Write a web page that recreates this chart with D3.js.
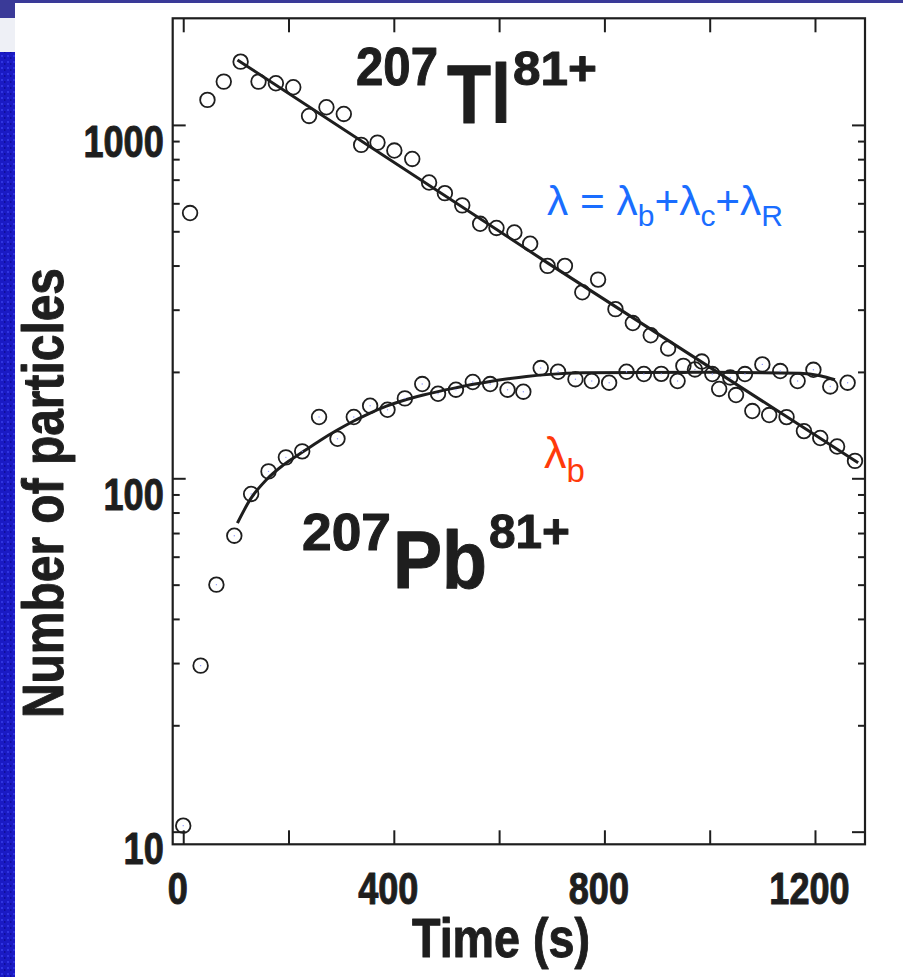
<!DOCTYPE html>
<html>
<head>
<meta charset="utf-8">
<script src="https://cdn.jsdelivr.net/npm/d3@7"></script>
<style>
  html, body { margin: 0; padding: 0; background: #ffffff; }
  svg { display: block; }
  text { font-family: "Liberation Sans", Arial, Helvetica, sans-serif; }
</style>
</head>
<body>
<svg id="chart" width="903" height="977"></svg>
<script>
// ---------- data ----------
const tlTime = [13,46,77,109,143,176,209,239,272,305,338,369,401,435,467,497,530,564,595,629,659,692,725,758,788,821,854,888,921,950,985,1018,1050,1081,1113,1146,1179,1210,1242,1276];
const tlCounts = [563,1177,1326,1510,1326,1312,1278,1060,1122,1074,878,891,846,801,687,641,592,525,511,496,461,399,399,336,365,301,275,254,233,208,214,179,172,155,151,149,136,130,123,112];

const pbTime = [0,33,63,97,129,162,195,226,258,293,324,355,388,421,454,484,518,550,583,616,646,679,712,745,776,809,842,875,908,939,972,1005,1039,1067,1100,1134,1167,1197,1229,1262];
const pbCounts = [10.4,29.5,50.0,68.8,90.3,104.6,114.6,119.2,149.1,129.4,149.1,160.5,156.3,168.3,184.8,173.5,178.1,187.3,184.8,178.1,175.8,205.1,200.2,190.7,188.5,186.4,200.2,197.3,197.5,188.5,203.2,197.2,192.9,197.2,210,201.1,188.5,202.8,181.9,186.4];

// fitted curves
const tlFitTime = [103,692,1282];
const tlFitCounts = [1527,407,110.7];
const pbFitTime = [103,127,158,190,228,260,291,323,355,386,418,456,488,519,551,583,621,652,690,759,982,1172,1210,1238];
const pbFitCounts = [74.7,87.0,99.1,109.0,119.0,128.0,136.5,145.0,153.0,160.0,166.0,172.0,176.5,180.5,184.5,188.0,191.5,194.0,196.5,199.0,199.5,198.3,195.1,190];

// axes
const xTicks = [0,200,400,600,800,1000,1200];
const xLabels = [0,400,800,1200];
const yMajor = [10,100,1000];
const yMinor = [20,30,40,50,60,70,80,90,200,300,400,500,600,700,800,900];
const xDomain = [-20,1295];
const yDomain = [9.21,2003];

// ---------- drawing ----------
const svg = d3.select("#chart");
const L = 172.7, R = 865, T = 18.3, B = 844.3;
const x = d3.scaleLinear().domain(xDomain).range([L, R]);
const y = d3.scaleLog().domain(yDomain).range([B, T]);
const ink = "#1e1e1e";

// slide decoration
const defs = svg.append("defs");
const pat = defs.append("pattern").attr("id","tex").attr("width",6).attr("height",6).attr("patternUnits","userSpaceOnUse");
pat.append("rect").attr("width",6).attr("height",6).attr("fill","#1a1ac4");
pat.append("rect").attr("x",1).attr("y",1).attr("width",2).attr("height",2).attr("fill","#2f34e0");
pat.append("rect").attr("x",4).attr("y",3).attr("width",1.5).attr("height",2).attr("fill","#0f0f9a");
svg.append("rect").attr("x",0).attr("y",0).attr("width",15).attr("height",977).attr("fill","url(#tex)");
svg.append("rect").attr("x",0).attr("y",18).attr("width",15).attr("height",34).attr("fill","#eef0f6");
svg.append("rect").attr("x",0).attr("y",0).attr("width",15).attr("height",18).attr("fill","#3a3a98");
svg.append("rect").attr("x",0).attr("y",0).attr("width",903).attr("height",3).attr("fill","#3a3a98");

function condense(sel, ratio) {
  sel.each(function() {
    const w = this.getComputedTextLength();
    d3.select(this).attr("textLength", w * ratio).attr("lengthAdjust", "spacingAndGlyphs");
  });
}
function heavy(sel) {
  sel.attr("stroke", ink).attr("stroke-width", 1).attr("stroke-linejoin", "round");
}

// axes
const gB = svg.append("g").attr("transform", `translate(0,${B})`)
  .call(d3.axisBottom(x).tickValues(xTicks).tickSize(-14).tickFormat(d => xLabels.includes(d) ? d : ""));
const gT = svg.append("g").attr("transform", `translate(0,${T})`)
  .call(d3.axisTop(x).tickValues(xTicks).tickSize(-14).tickFormat(""));
const gL = svg.append("g").attr("transform", `translate(${L},0)`)
  .call(d3.axisLeft(y).tickValues(yMajor).tickSize(-13).tickFormat(d => d));
const gLm = svg.append("g").attr("transform", `translate(${L},0)`)
  .call(d3.axisLeft(y).tickValues(yMinor).tickSize(-7).tickFormat(""));
const gR = svg.append("g").attr("transform", `translate(${R},0)`)
  .call(d3.axisRight(y).tickValues(yMajor).tickSize(-13).tickFormat(""));
const gRm = svg.append("g").attr("transform", `translate(${R},0)`)
  .call(d3.axisRight(y).tickValues(yMinor).tickSize(-7).tickFormat(""));

[gB,gT,gL,gLm,gR,gRm].forEach(g => {
  g.select(".domain").remove();
  g.selectAll(".tick line").attr("stroke", ink).attr("stroke-width", 2);
});

gB.selectAll(".tick text")
  .attr("y", 60).attr("dy", 0).attr("dx", -6)
  .attr("fill", ink).attr("font-size", 44).attr("font-weight", "bold")
  .call(condense, 0.82).call(heavy);
gL.selectAll(".tick text")
  .attr("x", -9).attr("dy", 31.5).attr("text-anchor", "end")
  .attr("fill", ink).attr("font-size", 44).attr("font-weight", "bold")
  .call(condense, 0.82).call(heavy);

// frame
svg.append("rect").attr("x", L).attr("y", T).attr("width", R - L).attr("height", B - T)
  .attr("fill", "none").attr("stroke", ink).attr("stroke-width", 2.2);

// fits
const line = d3.line().x(d => x(d[0])).y(d => y(d[1]));
svg.append("path")
  .datum(tlFitTime.map((t,i) => [t, tlFitCounts[i]]))
  .attr("d", line).attr("fill", "none").attr("stroke", ink).attr("stroke-width", 3);
svg.append("path")
  .datum(pbFitTime.map((t,i) => [t, pbFitCounts[i]]))
  .attr("d", line.curve(d3.curveMonotoneX)).attr("fill", "none").attr("stroke", ink).attr("stroke-width", 3);

// points
svg.append("g").selectAll("circle")
  .data(tlTime.map((t,i) => [t, tlCounts[i]]))
  .join("circle")
  .attr("cx", d => x(d[0])).attr("cy", d => y(d[1])).attr("r", 7.3)
  .attr("fill", "none").attr("stroke", ink).attr("stroke-width", 1.8);
const pbG = svg.append("g");
pbG.selectAll("circle.pb")
  .data(pbTime.map((t,i) => [t, pbCounts[i]]))
  .join("circle").attr("class","pb")
  .attr("cx", d => x(d[0])).attr("cy", d => y(d[1])).attr("r", 7.3)
  .attr("fill", "none").attr("stroke", ink).attr("stroke-width", 1.8);
pbG.selectAll("circle.dot")
  .data(pbTime.map((t,i) => [t, pbCounts[i]]))
  .join("circle").attr("class","dot")
  .attr("cx", d => x(d[0])).attr("cy", d => y(d[1])).attr("r", 0.7)
  .attr("fill", "#8c96ff");

// axis titles
svg.append("text")
  .attr("transform", "translate(63,493) rotate(-90)")
  .attr("text-anchor", "middle").attr("font-size", 58).attr("font-weight", "bold").attr("fill", ink)
  .attr("textLength", 450).attr("lengthAdjust", "spacingAndGlyphs")
  .text("Number of particles").call(heavy);
svg.append("text")
  .attr("x", 501).attr("y", 957)
  .attr("text-anchor", "middle").attr("font-size", 56).attr("font-weight", "bold").attr("fill", ink)
  .attr("textLength", 178).attr("lengthAdjust", "spacingAndGlyphs")
  .text("Time (s)").call(heavy);

// isotope labels
function piece(str, px, py, size, w) {
  svg.append("text").attr("x", px).attr("y", py)
    .attr("font-size", size).attr("font-weight", "bold").attr("fill", ink)
    .attr("textLength", w).attr("lengthAdjust", "spacingAndGlyphs")
    .text(str).call(heavy);
}
piece("207", 356, 85, 53, 82);
piece("Tl", 447, 123, 84, 64);
piece("81+", 513, 85, 49, 84);
piece("207", 302, 550, 52, 89);
piece("Pb", 393, 588, 81, 94);
piece("81+", 489, 548, 49, 81);

// formula labels
const blue = "#1a6dff", red = "#ff3a0a";
const f = svg.append("text").attr("x", 547).attr("y", 215).attr("fill", blue).attr("font-size", 41)
  .attr("textLength", 236).attr("lengthAdjust", "spacingAndGlyphs");
f.append("tspan").text("λ = λ");
f.append("tspan").attr("dy", 11).attr("font-size", 29).text("b");
f.append("tspan").attr("dy", -11).text("+λ");
f.append("tspan").attr("dy", 11).attr("font-size", 29).text("c");
f.append("tspan").attr("dy", -11).text("+λ");
f.append("tspan").attr("dy", 11).attr("font-size", 29).text("R");

const rl = svg.append("text").attr("x", 544).attr("y", 468).attr("fill", red).attr("font-size", 45);
rl.append("tspan").text("λ");
rl.append("tspan").attr("dy", 14).attr("font-size", 33).text("b");
</script>
</body>
</html>
